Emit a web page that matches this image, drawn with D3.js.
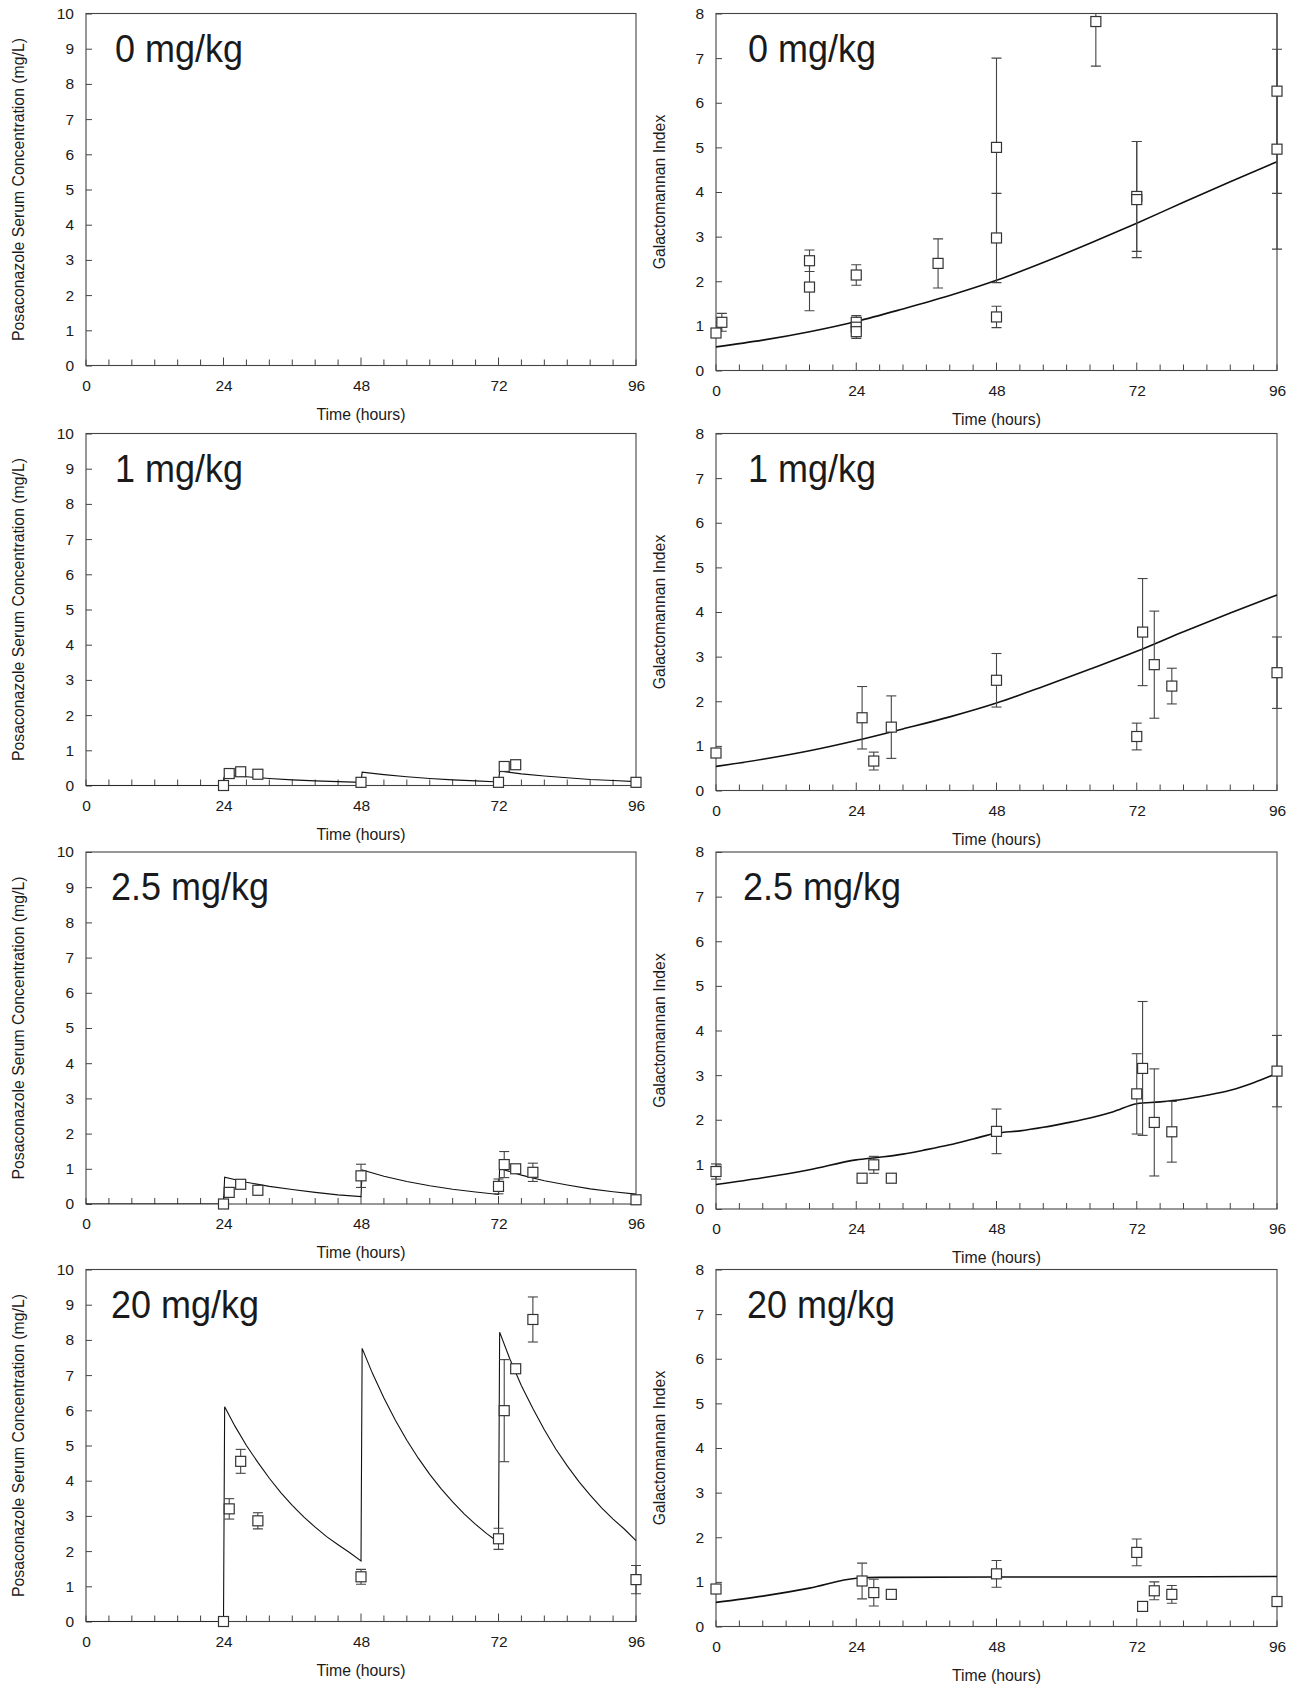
<!DOCTYPE html>
<html><head><meta charset="utf-8">
<script src="https://cdn.jsdelivr.net/npm/d3@7"></script>
<style>
body{margin:0;background:#fff}
text{font-family:"Liberation Sans",Arial,Helvetica,sans-serif;fill:#1a1a1a}
</style>
</head><body>
<svg id="chart" width="1299" height="1688"></svg>
<script>
// ---------- data ----------
const timeTicks = [0, 24, 48, 72, 96];
const timeMinorTicks = [0,4,8,12,16,20,24,28,32,36,40,44,48,52,56,60,64,68,72,76,80,84,88,92,96];
const pkTicks = [0, 1, 2, 3, 4, 5, 6, 7, 8, 9, 10];
const gmTicks = [0, 1, 2, 3, 4, 5, 6, 7, 8];
const doseLabels = ["0 mg/kg", "1 mg/kg", "2.5 mg/kg", "20 mg/kg"];
const pkAxisTitle = "Posaconazole Serum Concentration (mg/L)";
const gmAxisTitle = "Galactomannan Index";
const xAxisTitle = "Time (hours)";

// PK observations: [time, mean, sd]
const pkObs0 = [];
const pkObs1 = [[24,0,0],[25,0.34,0],[27,0.39,0],[30,0.32,0],[48,0.09,0],[72,0.09,0],[73,0.54,0],[75,0.59,0],[96,0.09,0]];
const pkObs2_5 = [[24,0,0],[25,0.33,0],[27,0.56,0],[30,0.39,0],[48,0.80,0.33],[72,0.50,0.21],[73,1.12,0.37],[75,1.00,0],[78,0.90,0.26],[96,0.12,0]];
const pkObs20 = [[24,0,0],[25,3.20,0.29],[27,4.55,0.34],[30,2.86,0.23],[48,1.27,0.21],[72,2.35,0.30],[73,5.99,1.45],[75,7.18,0],[78,8.58,0.64],[96,1.19,0.40]];

// PK model curves: [time, concentration]
const pkModel0 = [];
const pkModel1 = [[0,0],[24,0],[24.2,0.30],[28,0.25],[32,0.20],[36,0.16],[40,0.13],[44,0.11],[48,0.09],[48.2,0.38],[52,0.31],[56,0.25],[60,0.20],[64,0.16],[68,0.13],[72,0.10],[72.2,0.41],[76,0.33],[80,0.27],[84,0.22],[88,0.17],[92,0.14],[96,0.11]];
const pkModel2_5 = [[0,0],[24,0],[24.2,0.76],[28,0.62],[32,0.50],[36,0.41],[40,0.33],[44,0.26],[48,0.21],[48.2,0.97],[52,0.79],[56,0.64],[60,0.52],[64,0.42],[68,0.34],[72,0.27],[72.2,1.01],[76,0.82],[80,0.66],[84,0.54],[88,0.43],[92,0.35],[96,0.28]];
const pkModel20 = [[0,0],[24,0],[24.2,6.10],[26,5.55],[28,5.00],[30,4.52],[32,4.07],[34,3.66],[36,3.30],[38,2.97],[40,2.68],[42,2.41],[44,2.18],[46,1.96],[48,1.72],[48.2,7.76],[50,7.05],[52,6.35],[54,5.72],[56,5.15],[58,4.64],[60,4.18],[62,3.77],[64,3.40],[66,3.06],[68,2.76],[70,2.49],[72,2.25],[72.2,8.22],[74,7.45],[76,6.70],[78,6.05],[80,5.45],[82,4.90],[84,4.42],[86,3.98],[88,3.59],[90,3.23],[92,2.91],[94,2.62],[96,2.30]];

// GM observations: [time, mean, sd]
const gmObs0 = [[0,0.84,0],[1,1.08,0.20],[16,2.46,0.24],[16,1.87,0.53],[24,2.14,0.23],[24,1.08,0.15],[24,0.97,0],[24,0.87,0.15],[38,2.40,0.55],[48,5.00,2.00],[48,2.97,1.00],[48,1.20,0.24],[65,7.82,1.00],[72,3.90,1.23],[72,3.83,1.30],[96,6.26,2.29],[96,4.96,2.24]];
const gmObs1 = [[0,0.84,0],[25,1.63,0.70],[27,0.66,0.20],[30,1.42,0.70],[48,2.47,0.60],[72,1.21,0.30],[73,3.55,1.20],[75,2.82,1.20],[78,2.34,0.40],[96,2.64,0.80]];
const gmObs2_5 = [[0,0.84,0.17],[25,0.69,0],[27,0.99,0.19],[30,0.69,0],[48,1.74,0.50],[72,2.58,0.90],[73,3.15,1.50],[75,1.94,1.20],[78,1.73,0.68],[96,3.09,0.80]];
const gmObs20 = [[0,0.84,0],[25,1.02,0.40],[27,0.76,0.30],[30,0.72,0],[48,1.18,0.30],[72,1.66,0.30],[73,0.45,0],[75,0.80,0.20],[78,0.72,0.20],[96,0.56,0]];

// GM model curves
const gmModel0 = [[0,0.53],[8,0.68],[16,0.87],[24,1.10],[32,1.38],[40,1.68],[48,2.02],[56,2.42],[64,2.85],[72,3.30],[80,3.77],[88,4.23],[96,4.68]];
const gmModel1 = [[0,0.54],[8,0.70],[16,0.89],[24,1.12],[32,1.38],[40,1.65],[48,1.96],[56,2.33],[64,2.72],[72,3.12],[80,3.56],[88,3.98],[96,4.38]];
const gmModel2_5 = [[0,0.55],[8,0.70],[16,0.88],[24,1.10],[28,1.16],[32,1.23],[36,1.33],[40,1.44],[44,1.57],[48,1.70],[52,1.75],[56,1.83],[60,1.93],[64,2.04],[68,2.18],[72,2.36],[76,2.40],[80,2.46],[84,2.55],[88,2.66],[92,2.83],[96,3.04]];
const gmModel20 = [[0,0.54],[8,0.68],[16,0.86],[24,1.08],[28,1.10],[48,1.11],[72,1.11],[96,1.12]];

const pkObs = [pkObs0, pkObs1, pkObs2_5, pkObs20];
const pkModels = [pkModel0, pkModel1, pkModel2_5, pkModel20];
const gmObs = [gmObs0, gmObs1, gmObs2_5, gmObs20];
const gmModels = [gmModel0, gmModel1, gmModel2_5, gmModel20];

// ---------- layout ----------
const rowTops = [13.5, 433.5, 852, 1269.5];
const left = {x0: 86, x1: 636, h: 352, labelDx: [29, 29, 25, 25]};
const right = {x0: 716, x1: 1277, h: 357, labelDx: [32, 32, 27, 31]};
const FONT = '"Liberation Sans",Arial,sans-serif';

const svg = d3.select("#chart");

function panel(cfg, top, row, ymax, yTicks, yTitle, obs, model, smooth, titleX) {
  const w = cfg.x1 - cfg.x0, h = cfg.h;
  const g = svg.append("g").attr("transform", `translate(${cfg.x0},${top})`);
  const x = d3.scaleLinear().domain([0, 96]).range([0, w]);
  const y = d3.scaleLinear().domain([0, ymax]).range([h, 0]);
  const clipId = "clip" + Math.round(cfg.x0) + "_" + row;
  g.append("clipPath").attr("id", clipId).append("rect")
    .attr("x", -20).attr("y", 0).attr("width", w + 40).attr("height", h);

  // frame
  g.append("rect").attr("width", w).attr("height", h)
    .attr("fill", "none").attr("stroke", "#444").attr("stroke-width", 1.1);

  // x ticks (inward)
  g.append("g").selectAll("line").data(timeMinorTicks).join("line")
    .attr("x1", d => x(d)).attr("x2", d => x(d))
    .attr("y1", h).attr("y2", d => (d % 24 === 0 && d > 0 && d < 96) ? h - 8 : h - 6)
    .attr("stroke", "#444").attr("stroke-width", 1);
  const xa = g.append("g").attr("transform", `translate(0,${h})`)
    .call(d3.axisBottom(x).tickValues(timeTicks).tickSize(0).tickPadding(14).tickFormat(d3.format("d")));
  xa.select(".domain").remove();
  xa.selectAll("text").attr("font-size", 15.5).style("font-family", FONT).attr("fill", "#1a1a1a");

  // y ticks (inward)
  const ya = g.append("g").call(d3.axisLeft(y).tickValues(yTicks).tickSize(-6).tickPadding(12).tickFormat(d3.format("d")));
  ya.select(".domain").remove();
  ya.selectAll("line").attr("stroke", "#444");
  ya.selectAll("text").attr("font-size", 15.5).style("font-family", FONT).attr("fill", "#1a1a1a");

  // titles
  g.append("text").attr("x", w / 2).attr("y", h + 54).attr("text-anchor", "middle")
    .attr("font-size", 15.8).text(xAxisTitle);
  g.append("text").attr("transform", `translate(${titleX - cfg.x0},${h / 2}) rotate(-90)`)
    .attr("text-anchor", "middle").attr("dy", "0.35em").attr("font-size", 15.8).text(yTitle);
  g.append("text").attr("transform", `translate(${cfg.labelDx[row]},48) scale(1,1.06)`)
    .attr("font-size", 36).text(doseLabels[row]);

  const plot = g.append("g").attr("clip-path", `url(#${clipId})`);
  // model curve
  if (model.length) {
    const line = d3.line().x(d => x(d[0])).y(d => y(d[1]))
      .curve(smooth ? d3.curveMonotoneX : d3.curveLinear);
    plot.append("path").datum(model).attr("d", line).attr("fill", "none")
      .attr("stroke", "#111").attr("stroke-width", smooth ? 1.6 : 1.1);
  }
  // error bars
  const eb = obs.filter(d => d[2] > 0);
  const bars = plot.append("g").attr("stroke", "#444").attr("stroke-width", 1.1);
  bars.selectAll("line.v").data(eb).join("line").attr("class", "v")
    .attr("x1", d => x(d[0])).attr("x2", d => x(d[0]))
    .attr("y1", d => y(d[1] + d[2])).attr("y2", d => y(Math.max(0, d[1] - d[2])));
  bars.selectAll("line.hi").data(eb).join("line").attr("class", "hi")
    .attr("x1", d => x(d[0]) - 5).attr("x2", d => x(d[0]) + 5)
    .attr("y1", d => y(d[1] + d[2])).attr("y2", d => y(d[1] + d[2]));
  bars.selectAll("line.lo").data(eb).join("line").attr("class", "lo")
    .attr("x1", d => x(d[0]) - 5).attr("x2", d => x(d[0]) + 5)
    .attr("y1", d => y(d[1] - d[2])).attr("y2", d => y(d[1] - d[2]));
  // squares
  g.append("g").selectAll("rect").data(obs).join("rect")
    .attr("x", d => x(d[0]) - 5).attr("y", d => y(d[1]) - 5)
    .attr("width", 10).attr("height", 10)
    .attr("fill", "#fff").attr("stroke", "#333").attr("stroke-width", 1.2);
}

for (let r = 0; r < 4; r++) {
  panel(left, rowTops[r], r, 10, pkTicks, pkAxisTitle, pkObs[r], pkModels[r], false, 18);
  panel(right, rowTops[r], r, 8, gmTicks, gmAxisTitle, gmObs[r], gmModels[r], true, 659);
}
</script>
</body></html>
